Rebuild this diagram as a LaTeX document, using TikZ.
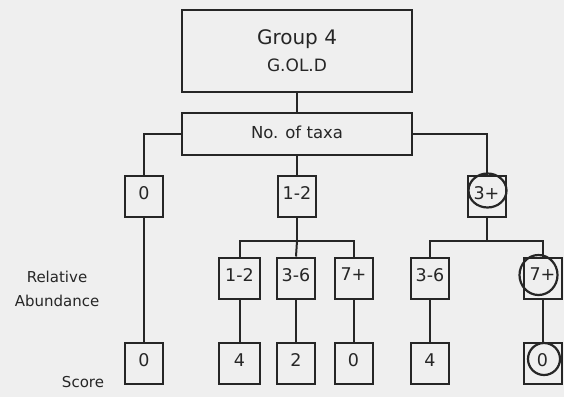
\documentclass[tikz,border=0pt]{standalone}
\usepackage{fontspec}
\setmainfont{DejaVu Sans}
\usepackage{tikz}
\definecolor{paper}{HTML}{EFEFEF}
\definecolor{ink}{HTML}{262626}

\begin{document}
\begin{tikzpicture}[x=1pt,y=1pt]
\tikzstyle{every node}+=[inner sep=0pt, text=ink]
\tikzstyle{box}=[draw=ink, line width=2pt, minimum width=38pt, minimum height=41pt, text depth=7pt, font=\fontsize{17.5}{19}\selectfont]
\tikzstyle{wire}=[draw=ink, line width=2pt]
\tikzstyle{ring}=[draw=ink, line width=2.2pt]
\fill [paper] (0,0) rectangle (564,-397);
\useasboundingbox (0,0) rectangle (564,-397);
\node [box, minimum width=230pt, minimum height=82pt, text depth=0pt, align=center, font=\fontsize{20}{27}\selectfont] (grp) at (297,-51) {Group 4\\\fontsize{17}{19}\selectfont G.OL.D};
\node [box, minimum width=230pt, minimum height=42pt, text depth=4pt, font=\fontsize{16.5}{18}\selectfont] (taxa) at (297,-134) {No. of taxa};
\node [box] (n0) at (144,-196.5) {0};
\node [box] (n12) at (297,-196.5) {1-2};
\node [box] (n3p) at (486.5,-196.5) {3+};
\node [box, minimum width=41pt] (a12) at (239.5,-278) {1-2};
\node [box] (a36) at (296,-278) {3-6};
\node [box] (a7) at (353.5,-278) {7+};
\node [box] (b36) at (430,-278) {3-6};
\node [box] (b7) at (542.5,-278) {7+};
\node [box] (s0) at (144,-363.5) {0};
\node [box, minimum width=41pt] (s12) at (239.5,-363.5) {4};
\node [box] (s36) at (296,-363.5) {2};
\node [box] (s7) at (353.5,-363.5) {0};
\node [box] (t36) at (430,-363.5) {4};
\node [box] (t7) at (542.5,-363.5) {0};
\node [align=center, font=\fontsize{15}{24}\selectfont] (rel) at (57,-289) {Relative\\Abundance};
\node [font=\fontsize{15}{16}\selectfont] (score) at (83,-382) {Score};
% tree
\draw [wire] (grp.south -| n12) -- (taxa.north -| n12);
\draw [wire] (taxa.west) -| (n0.north);
\draw [wire] (taxa.east) -| (n3p.north);
\draw [wire] (taxa.south -| n12) -- (n12.north);
\draw [wire] (n0) -- (s0);
\draw [wire] (n12.south) -- ++(0,-23) coordinate (bus1);
\draw [wire] (a12.north) |- (bus1) -| (a7.north);
\draw [wire] (bus1) -- (a36.north);
\draw [wire] (n3p.south) -- ++(0,-23) coordinate (bus2);
\draw [wire] (b36.north) |- (bus2) -| (b7.north);
\draw [wire] (a12) -- (s12);
\draw [wire] (a36) -- (s36);
\draw [wire] (a7) -- (s7);
\draw [wire] (b36) -- (t36);
\draw [wire] (b7) -- (t7);
% hand marks
\draw [ring] ([shift={(1,6)}]n3p.center) ellipse [x radius=19, y radius=17];
\draw [ring] ([shift={(-4,3)}]b7.center) ellipse [x radius=19, y radius=20];
\draw [ring] ([shift={(1.5,4.5)}]t7.center) ellipse [x radius=16, y radius=16];
\end{tikzpicture}
\end{document}
